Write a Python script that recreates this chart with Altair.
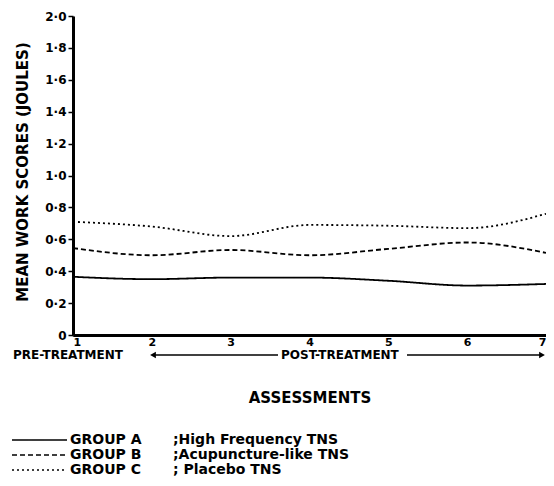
import altair as alt
import pandas as pd

# ---- data ----
assessments = [1, 2, 3, 4, 5, 6, 7]
group_a = [0.365, 0.35, 0.36, 0.36, 0.34, 0.31, 0.32]
group_b = [0.545, 0.50, 0.533, 0.50, 0.54, 0.58, 0.515]
group_c = [0.71, 0.68, 0.62, 0.69, 0.685, 0.67, 0.76]
group_names = ["GROUP A", "GROUP B", "GROUP C"]
group_desc = [";High Frequency TNS", ";Acupuncture-like TNS", "; Placebo TNS"]
y_ticks = [0, 0.2, 0.4, 0.6, 0.8, 1.0, 1.2, 1.4, 1.6, 1.8, 2.0]

FONT = "DejaVu Sans"
W, H = 473, 319
dashes = [[1, 0], [5, 3], [2, 3]]

rows = []
for name, vals in zip(group_names, [group_a, group_b, group_c]):
    for a, v in zip(assessments, vals):
        rows.append({"assessment": a, "score": v, "group": name})
df = pd.DataFrame(rows)

dash_scale = alt.Scale(domain=group_names, range=dashes)

lines = alt.Chart(df).mark_line(color="black", strokeWidth=1.8, interpolate="monotone").encode(
    x=alt.X("assessment:Q",
            scale=alt.Scale(domain=[1, 7], nice=False, zero=False),
            axis=alt.Axis(values=assessments, format="d", title="ASSESSMENTS",
                          grid=False, tickSize=1, labelPadding=0,
                          labelFontSize=11, labelFontWeight="bold", labelFont=FONT,
                          labelFlush=True,
                          titleFontSize=15, titleFontWeight="bold", titleFont=FONT,
                          titleY=62, titleBaseline="middle")),
    y=alt.Y("score:Q",
            scale=alt.Scale(domain=[0, 2], nice=False),
            axis=alt.Axis(values=y_ticks, grid=False, tickSize=5, labelPadding=2,
                          labelExpr="datum.value == 0 ? '0' : replace(format(datum.value, '.1f'), '.', '·')",
                          labelFontSize=12, labelFontWeight="bold", labelFont=FONT,
                          title="MEAN WORK SCORES (JOULES)",
                          titleFontSize=15, titleFontWeight="bold", titleFont=FONT,
                          titleX=-51, titleY=H / 2 - 4, titleBaseline="middle", titleAlign="center")),
    strokeDash=alt.StrokeDash("group:N", scale=dash_scale, legend=None),
    detail="group:N",
)

one = pd.DataFrame({"k": [0]})
ARROW_Y = 339

pre_txt = alt.Chart(one).mark_text(align="left", baseline="middle", font=FONT, fontSize=12,
                                   fontWeight="bold", color="black").encode(
    x=alt.value(-60), y=alt.value(ARROW_Y), text=alt.value("PRE-TREATMENT"))
post_txt = alt.Chart(one).mark_text(align="left", baseline="middle", font=FONT, fontSize=12,
                                    fontWeight="bold", color="black").encode(
    x=alt.value(208), y=alt.value(ARROW_Y), text=alt.value("POST-TREATMENT"))
left_arrow = alt.Chart(one).mark_rule(color="black", strokeWidth=1.5).encode(
    x=alt.value(80), x2=alt.value(205), y=alt.value(ARROW_Y))
right_arrow = alt.Chart(one).mark_rule(color="black", strokeWidth=1.5).encode(
    x=alt.value(334), x2=alt.value(W - 4), y=alt.value(ARROW_Y))
left_head = alt.Chart(one).mark_point(shape="triangle-left", filled=True, color="black",
                                      opacity=1, size=45).encode(
    x=alt.value(80), y=alt.value(ARROW_Y))
right_head = alt.Chart(one).mark_point(shape="triangle-right", filled=True, color="black",
                                       opacity=1, size=45).encode(
    x=alt.value(W - 4), y=alt.value(ARROW_Y))

legend_layers = []
for i, (name, desc) in enumerate(zip(group_names, group_desc)):
    ly = 424 + 15 * i
    gdf = pd.DataFrame({"group": [name]})
    legend_layers.append(
        alt.Chart(gdf).mark_rule(color="black", strokeWidth=1.5).encode(
            x=alt.value(-61), x2=alt.value(-6), y=alt.value(ly),
            strokeDash=alt.StrokeDash("group:N", scale=dash_scale, legend=None)))
    legend_layers.append(
        alt.Chart(gdf).mark_text(align="left", baseline="middle", font=FONT, fontSize=14,
                                 fontWeight="bold", color="black").encode(
            x=alt.value(-3), y=alt.value(ly), text=alt.value(name)))
    legend_layers.append(
        alt.Chart(gdf).mark_text(align="left", baseline="middle", font=FONT, fontSize=14,
                                 fontWeight="bold", color="black").encode(
            x=alt.value(100), y=alt.value(ly), text=alt.value(desc)))

chart = alt.layer(lines, pre_txt, post_txt, left_arrow, right_arrow, left_head, right_head,
                  *legend_layers).properties(
    width=W, height=H,
    autosize=alt.AutoSizeParams(type="none"),
    padding={"left": 65, "top": 8, "right": 0, "bottom": 143},
).configure_view(stroke=None).configure_axis(
    domainColor="black", domainWidth=3, tickColor="black", tickWidth=1.5,
    labelColor="black", titleColor="black")

chart.save("out.html", embed_options={"renderer": "svg", "actions": False})
